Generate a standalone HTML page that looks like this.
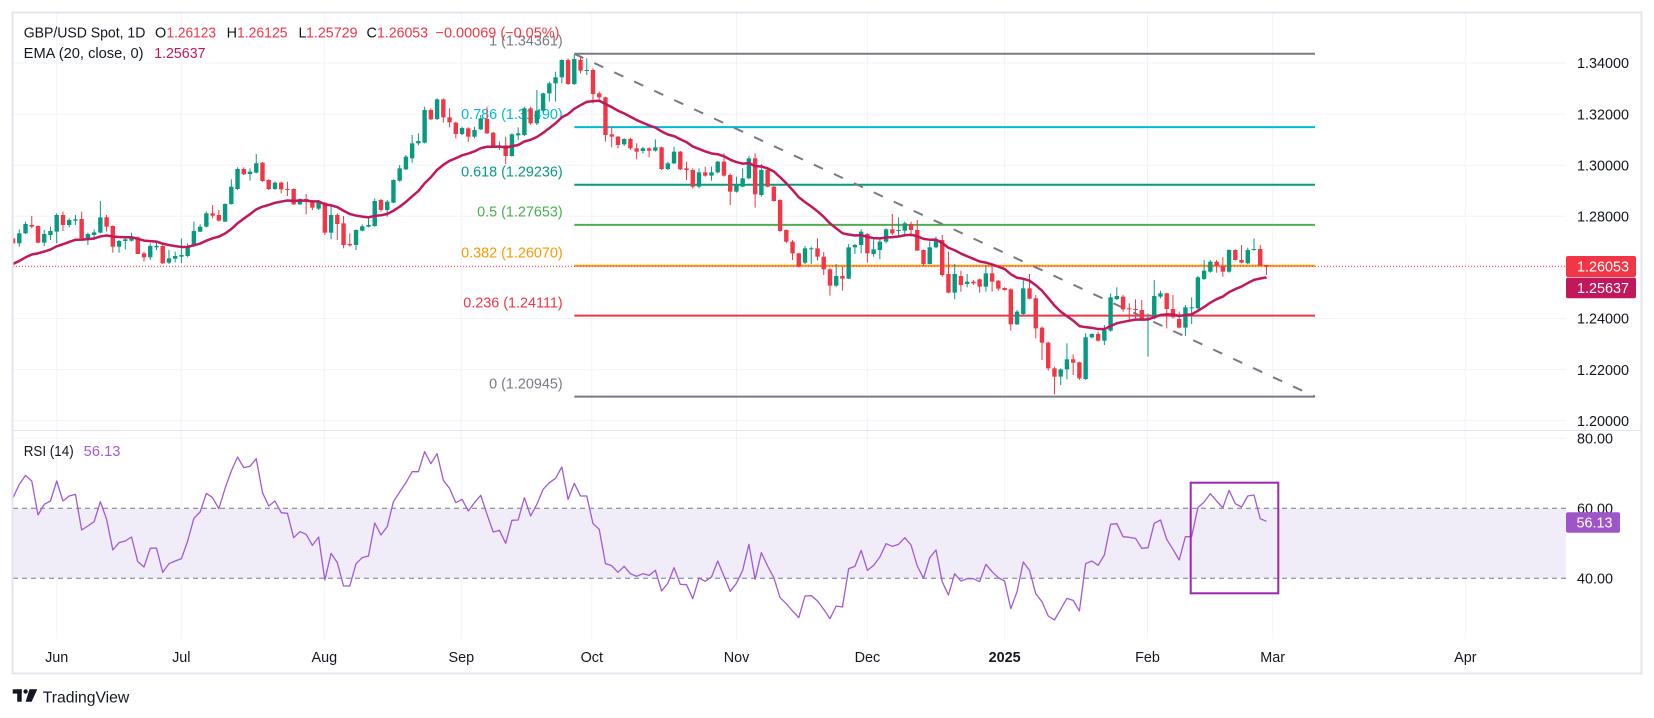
<!DOCTYPE html>
<html><head><meta charset="utf-8">
<style>html,body{margin:0;padding:0;background:#fff;width:1654px;height:718px;overflow:hidden}svg{display:block}</style>
</head><body>
<svg id="s" xmlns="http://www.w3.org/2000/svg" width="1654" height="718" viewBox="0 0 1654 718" font-family="'Liberation Sans', Arial, sans-serif">
<defs>
<clipPath id="cm"><rect x="13" y="13" width="1553" height="417"/></clipPath>
<clipPath id="cr"><rect x="13" y="431" width="1553" height="208"/></clipPath>
</defs>
<rect width="1654" height="718" fill="#fff"/>
<!-- grid -->
<g stroke="#f0f3fa" stroke-width="1">
<line x1="56.7" y1="13" x2="56.7" y2="639"/><line x1="181.3" y1="13" x2="181.3" y2="639"/><line x1="324.3" y1="13" x2="324.3" y2="639"/><line x1="461.3" y1="13" x2="461.3" y2="639"/><line x1="591.8" y1="13" x2="591.8" y2="639"/><line x1="736.5" y1="13" x2="736.5" y2="639"/><line x1="867.4" y1="13" x2="867.4" y2="639"/><line x1="1004.6" y1="13" x2="1004.6" y2="639"/><line x1="1147.5" y1="13" x2="1147.5" y2="639"/><line x1="1272.7" y1="13" x2="1272.7" y2="639"/><line x1="1465.3" y1="13" x2="1465.3" y2="639"/>
<line x1="13" y1="63" x2="1566" y2="63"/><line x1="13" y1="114.1" x2="1566" y2="114.1"/><line x1="13" y1="165.2" x2="1566" y2="165.2"/><line x1="13" y1="216.3" x2="1566" y2="216.3"/><line x1="13" y1="267.4" x2="1566" y2="267.4"/><line x1="13" y1="318.5" x2="1566" y2="318.5"/><line x1="13" y1="369.6" x2="1566" y2="369.6"/><line x1="13" y1="420.7" x2="1566" y2="420.7"/><line x1="13" y1="438.3" x2="1566" y2="438.3"/>
</g>
<line x1="13" y1="430.5" x2="1641" y2="430.5" stroke="#e0e3eb" stroke-width="1"/>
<!-- RSI band -->
<rect x="13" y="508.3" width="1553" height="70" fill="#f0ecf8"/>
<g stroke="#787b86" stroke-width="1" stroke-dasharray="5 4">
<line x1="13" y1="508.3" x2="1566" y2="508.3"/><line x1="13" y1="578.3" x2="1566" y2="578.3"/>
</g>
<!-- main pane -->
<g clip-path="url(#cm)">
<g stroke-width="2">
<line x1="574.3" y1="53.8" x2="1315" y2="53.8" stroke="#787b86"/>
<line x1="574.3" y1="127.1" x2="1315" y2="127.1" stroke="#00bcd4"/>
<line x1="574.3" y1="184.7" x2="1315" y2="184.7" stroke="#089981"/>
<line x1="574.3" y1="224.9" x2="1315" y2="224.9" stroke="#4caf50"/>
<line x1="574.3" y1="265.8" x2="1315" y2="265.8" stroke="#ff9800"/>
<line x1="574.3" y1="315.6" x2="1315" y2="315.6" stroke="#f23645"/>
<line x1="574.3" y1="396.6" x2="1315" y2="396.6" stroke="#787b86"/>
</g>
<g font-size="14.4" text-anchor="end">
<text x="562.7" y="45.5" fill="#787b86">1 (1.34361)</text>
<text x="562.7" y="119" fill="#00bcd4">0.786 (1.31490)</text>
<text x="562.7" y="176.5" fill="#089981">0.618 (1.29236)</text>
<text x="562.7" y="216.5" fill="#4caf50">0.5 (1.27653)</text>
<text x="562.7" y="257.5" fill="#ff9800">0.382 (1.26070)</text>
<text x="562.7" y="307.5" fill="#f23645">0.236 (1.24111)</text>
<text x="562.7" y="388.5" fill="#787b86">0 (1.20945)</text>
</g>
<line x1="574.3" y1="53.8" x2="1315" y2="396.6" stroke="#787b86" stroke-width="2" stroke-dasharray="10 12"/>
<g id="cand"></g>
<path id="ema" d="" fill="none" stroke="#c2185b" stroke-width="2.5" stroke-linejoin="round"/>
<line x1="13" y1="266.2" x2="1566" y2="266.2" stroke="#f23645" stroke-width="1" stroke-dasharray="1 2"/>
</g>
<!-- RSI -->
<g clip-path="url(#cr)">
<polyline id="rsi" points="" fill="none" stroke="#a05bd5" stroke-width="1.3" stroke-linejoin="round"/>
</g>
<rect x="1190.7" y="482.7" width="87.6" height="110.6" fill="none" stroke="#9c27b0" stroke-width="2"/>
<!-- price axis -->
<g font-size="14.4" fill="#131722">
<text x="1577" y="68.2" textLength="52" lengthAdjust="spacingAndGlyphs">1.34000</text>
<text x="1577" y="119.3" textLength="52" lengthAdjust="spacingAndGlyphs">1.32000</text>
<text x="1577" y="170.4" textLength="52" lengthAdjust="spacingAndGlyphs">1.30000</text>
<text x="1577" y="221.5" textLength="52" lengthAdjust="spacingAndGlyphs">1.28000</text>
<text x="1577" y="323.7" textLength="52" lengthAdjust="spacingAndGlyphs">1.24000</text>
<text x="1577" y="374.8" textLength="52" lengthAdjust="spacingAndGlyphs">1.22000</text>
<text x="1577" y="425.9" textLength="52" lengthAdjust="spacingAndGlyphs">1.20000</text>
<text x="1577" y="443.5" textLength="36" lengthAdjust="spacingAndGlyphs">80.00</text>
<text x="1577" y="513.5" textLength="36" lengthAdjust="spacingAndGlyphs">60.00</text>
<text x="1577" y="583.5" textLength="36" lengthAdjust="spacingAndGlyphs">40.00</text>
</g>
<rect x="1566" y="256" width="70" height="21" rx="2" fill="#f23645"/>
<text x="1577" y="271.5" font-size="14.4" fill="#fff" textLength="52" lengthAdjust="spacingAndGlyphs">1.26053</text>
<rect x="1566" y="277.6" width="70" height="20.6" rx="2" fill="#c2185b"/>
<text x="1577" y="292.8" font-size="14.4" fill="#fff" textLength="52" lengthAdjust="spacingAndGlyphs">1.25637</text>
<rect x="1566" y="512.3" width="54" height="20.5" rx="2" fill="#9e55c8"/>
<text x="1576.5" y="527.5" font-size="14.4" fill="#fff" textLength="36" lengthAdjust="spacingAndGlyphs">56.13</text>
<!-- legend -->
<g font-size="14.4">
<text x="23.7" y="37.5" fill="#131722" textLength="121.7" lengthAdjust="spacingAndGlyphs">GBP/USD Spot, 1D</text>
<text x="155" y="37.5" fill="#131722">O</text>
<text x="166.5" y="37.5" fill="#f23645" textLength="49.5" lengthAdjust="spacingAndGlyphs">1.26123</text>
<text x="226.6" y="37.5" fill="#131722">H</text>
<text x="237" y="37.5" fill="#f23645" textLength="50.5" lengthAdjust="spacingAndGlyphs">1.26125</text>
<text x="298.5" y="37.5" fill="#131722">L</text>
<text x="306" y="37.5" fill="#f23645" textLength="51.5" lengthAdjust="spacingAndGlyphs">1.25729</text>
<text x="366.5" y="37.5" fill="#131722">C</text>
<text x="377" y="37.5" fill="#f23645" textLength="51" lengthAdjust="spacingAndGlyphs">1.26053</text>
<text x="435.5" y="37.5" fill="#f23645" textLength="124" lengthAdjust="spacingAndGlyphs">−0.00069 (−0.05%)</text>
<text x="23.7" y="58" fill="#131722" textLength="119.8" lengthAdjust="spacingAndGlyphs">EMA (20, close, 0)</text>
<text x="154.2" y="58" fill="#c2185b" textLength="51.3" lengthAdjust="spacingAndGlyphs">1.25637</text>
<text x="23.7" y="456" fill="#131722" textLength="50" lengthAdjust="spacingAndGlyphs">RSI (14)</text>
<text x="83.7" y="456" fill="#a05bd5" textLength="36.7" lengthAdjust="spacingAndGlyphs">56.13</text>
</g>
<!-- time axis -->
<g font-size="14.4" fill="#131722" text-anchor="middle">
<text x="56.7" y="662">Jun</text><text x="181.3" y="662">Jul</text><text x="324.3" y="662">Aug</text><text x="461.3" y="662">Sep</text><text x="591.8" y="662">Oct</text><text x="736.5" y="662">Nov</text><text x="867.4" y="662">Dec</text><text x="1004.6" y="662" font-weight="bold">2025</text><text x="1147.5" y="662">Feb</text><text x="1272.7" y="662">Mar</text><text x="1465.3" y="662">Apr</text>
</g>
<!-- frame -->
<rect x="12.5" y="12.5" width="1629" height="661" fill="none" stroke="#e4e4ec" stroke-width="2"/>
<!-- logo -->
<g fill="#131722">
<rect x="12.7" y="689.3" width="9" height="4.3"/>
<rect x="17.2" y="689.3" width="4.5" height="12.4"/>
<circle cx="25.6" cy="691.5" r="2.2"/>
<polygon points="29.5,689.3 37.3,689.3 31.6,701.7 25.6,701.7"/>
</g>
<text x="42.7" y="702.5" font-size="16" fill="#131722" textLength="86.6" lengthAdjust="spacingAndGlyphs">TradingView</text>
</svg>
<script>
(function(){
var A=[[-7,0,325,340,300,345],[-6,1,310,340,298,350],[-5,1,282,310,275,312],[-4,0,285,290,258,295],[-3,0,288,338,286,340],[-2,1,312,338,300,348],[-1,1,303,315,290,330],[0,1,255,305,250,340],[1,0,255,285,245,303],[2,1,270,285,265,292],[3,1,268,272,255,285],[4,0,267,325,245,327],[5,1,312,325,308,345],[6,1,307,315,298,330],[7,1,262,308,213,310],[8,0,262,290,255,305],[9,0,288,350,286,368],[10,1,333,350,330,368],[11,1,328,333,320,358],[12,1,322,332,308,335],[13,0,322,372,320,372],[14,0,370,382,365,395],[15,1,348,382,340,390],[16,1,348,352,338,360],[17,0,348,400,342,402],[18,1,385,398,360,402],[19,1,378,386,365,397],[20,1,375,380,325,400],[21,1,348,378,340,382],[22,1,303,348,275,350],[23,1,290,305,283,306],[24,1,250,290,245,292],[25,0,250,257,225,265],[26,0,255,272,240,275],[27,1,222,275,220,276],[28,1,170,222,148,224],[29,1,117,177,112,180],[30,0,117,133,112,135],[31,1,125,132,115,152],[32,1,100,128,72,130],[33,0,98,153,96,155],[34,0,150,177,148,180],[35,1,158,177,155,180],[36,0,158,178,155,190],[37,0,177,180,155,198],[38,0,177,223,175,225],[39,1,207,223,205,225],[40,0,207,212,192,253],[41,0,212,233,210,240],[42,1,215,236,210,240],[43,0,218,308,216,315],[44,1,255,308,228,328],[45,0,255,282,250,330],[46,0,280,345,258,355],[47,0,342,346,310,350],[48,1,300,345,298,360],[49,1,289,302,283,304],[50,1,285,290,265,292],[51,1,213,288,205,290],[52,0,210,240,207,245],[53,1,215,240,210,260],[54,1,150,218,148,220],[55,1,115,152,105,155],[56,1,80,118,75,120]];
var B=[[57,1,310,355,285,368],[58,1,303,310,280,316],[59,1,210,308,200,310],[60,0,210,238,205,240],[61,1,178,237,175,240],[62,0,178,232,175,248],[63,0,232,247,205,262],[64,0,248,282,245,295],[65,1,264,282,260,285],[66,0,265,290,262,305],[67,1,270,290,260,295],[68,1,235,268,225,270],[69,0,237,280,200,282],[70,0,278,318,276,320],[71,1,316,320,305,330],[72,0,316,348,290,372],[73,1,283,348,280,350],[74,1,280,286,262,300],[75,1,205,285,200,288],[76,0,205,250,200,255],[77,1,212,250,150,255],[78,1,160,212,158,218],[79,1,130,160,125,185],[80,1,112,130,95,185],[81,1,60,112,58,130],[82,0,60,132,55,135],[83,1,57,132,45,135],[84,0,60,92,48,100],[85,1,90,92,55,105],[86,0,90,162,85,190],[87,0,160,172,155,178],[88,0,172,285,170,305],[89,0,283,290,260,322],[90,0,290,315,288,325],[91,1,297,313,295,318],[92,0,297,325,293,330],[93,0,325,335,310,358],[94,1,325,333,320,340],[95,0,325,332,322,352],[96,1,322,332,298,335],[97,0,322,387,320,390],[98,1,370,387,365,390],[99,1,335,370,320,372],[100,0,335,388,333,390],[101,0,385,390,365,420],[102,0,390,440,385,445],[103,1,397,440,385,445],[104,0,397,407,380,410],[105,1,397,407,380,422],[106,1,365,397,363,400],[107,0,365,407,340,410],[108,0,405,455,400,495],[109,1,435,455,410,458],[110,1,415,440,385,442],[111,1,355,415,348,418],[112,0,355,463,340,503],[113,1,390,465,372,470],[114,0,390,440,385,442],[115,0,440,483,438,485],[116,0,480,573,478,575],[117,0,570,605,568,610],[118,0,605,640,600,660],[119,0,640,680,638,682],[120,1,625,668,618,672],[121,1,625,628,620,672],[122,0,625,650,595,662],[123,0,650,688,636,705],[124,0,688,737,685,767],[125,1,708,737,672,740],[126,0,708,716,680,752],[127,1,622,716,612,717],[128,1,615,622,612,642],[129,1,575,615,568,640],[130,0,582,640,580,668],[131,1,628,642,595,650],[132,1,605,630,598,658],[133,1,568,605,565,610],[134,0,568,580,522,585],[135,1,570,573,532,590]];
var C=[[136,1,70,92,65,110],[137,0,72,90,65,110],[138,0,90,152,60,152],[139,0,150,192,148,198],[140,1,142,192,125,193],[141,1,118,142,110,145],[142,0,120,225,105,230],[143,0,222,278,155,280],[144,1,222,278,192,298],[145,0,228,255,212,275],[146,1,245,252,222,262],[147,0,245,250,240,255],[148,0,238,260,236,278],[149,1,220,260,195,275],[150,0,220,245,195,275],[151,0,242,266,240,272],[152,0,264,270,262,272],[153,0,268,373,265,392],[154,1,335,373,330,375],[155,1,265,342,238,345],[156,0,265,296,222,298],[157,0,295,385,285,415],[158,0,383,428,380,480],[159,0,428,505,425,512],[160,0,505,530,500,583],[161,1,508,530,505,555],[162,1,478,508,430,538],[163,0,478,488,463,525],[164,0,487,535,485,540],[165,1,412,537,400,540],[166,1,402,412,400,415],[167,0,402,422,395,425],[168,1,390,422,375,435],[169,1,292,392,280,395],[170,1,288,297,262,300],[171,0,290,328,285,335],[172,0,325,327,310,358],[173,0,327,330,298,355],[174,0,330,358,300,360],[175,1,353,360,340,470],[176,1,288,355,240,358],[177,1,280,290,272,295],[178,0,280,327,278,385],[179,0,327,352,285,355],[180,0,357,383,335,385],[181,1,322,383,315,408],[182,1,322,325,292,372],[183,1,232,325,228,328],[184,1,212,237,180,240],[185,1,185,215,180,218],[186,0,185,198,180,218],[187,0,198,215,172,230],[188,1,150,215,148,218],[189,0,150,180,148,182],[190,0,180,188,135,190],[191,1,150,190,143,193],[192,1,147,150,115,152],[193,0,147,197,135,198],[194,0,195,200,195,225]];
var R=[200,160,133,150,252,220,210,150,210,195,190,297,285,272,212,265,357,335,330,318,392,408,352,351,424,398,390,383,330,262,243,187,200,233,172,120,78,110,106,83,185,225,210,245,247,320,302,310,343,318,447,367,395,465,465,398,380,375,276,312,287,212,183,155,122,122,62,98,68,148,172,215,205,240,215,193,250,303,298,337,268,267,200,255,
220,175,155,142,108,205,157,195,195,278,295,398,404,424,406,428,436,428,433,418,480,457,410,460,461,503,441,451,438,390,435,481,457,418,340,445,365,405,440,500,518,540,560,495,494,510,535,563,525,528,413,406,358,418,403,378,338,346,340,320,342,405,442,380,357,452,492,428,450,443,443,452,400,422,440,450,533,482,393,418,488,512,555,
567,535,502,508,540,398,390,403,372,280,278,317,319,322,352,350,277,267,325,355,387,317,317,230,213,188,210,230,178,218,228,195,192,263,271];
function X(i){return 56.7+6.236*i;}
var G=[[130,A],[40,B],[200,C]];
var h='',closes=[];
G.forEach(function(g){var off=g[0];g[1].forEach(function(d){
 var i=d[0],up=d[1],bt=off+d[2]/3,bb=off+d[3]/3,wt=off+d[4]/3,wb=off+d[5]/3;
 if(wt>bt)wt=bt;if(wb<bb)wb=bb;
 var x=X(i),col=up?'#089981':'#f23645';
 h+='<line x1="'+x.toFixed(2)+'" y1="'+wt.toFixed(2)+'" x2="'+x.toFixed(2)+'" y2="'+wb.toFixed(2)+'" stroke="'+col+'" stroke-width="1"/>';
 var hh=Math.max(bb-bt,1);
 h+='<rect x="'+(x-2.2).toFixed(2)+'" y="'+bt.toFixed(2)+'" width="4.4" height="'+hh.toFixed(2)+'" fill="'+col+'"/>';
 closes.push([x,up?bt:bb]);
});});
document.getElementById('cand').innerHTML=h;
var e=266,a=2/21,p='';
closes.forEach(function(c,k){e=e+a*(c[1]-e);p+=(k?'L':'M')+c[0].toFixed(2)+' '+e.toFixed(2);});
document.getElementById('ema').setAttribute('d',p);
var pts=[];
for(var k=0;k<R.length;k++){pts.push(X(k-7).toFixed(2)+','+(431+R[k]/3).toFixed(2));}
document.getElementById('rsi').setAttribute('points',pts.join(' '));
})();
</script>
</body></html>
